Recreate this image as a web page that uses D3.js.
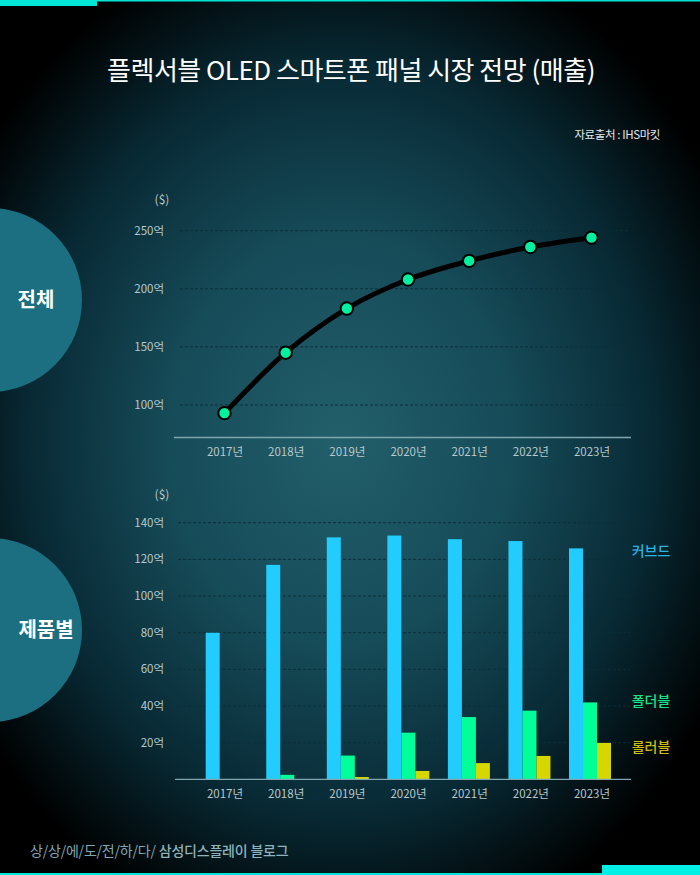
<!DOCTYPE html>
<html><head><meta charset="utf-8">
<script src="https://cdn.jsdelivr.net/npm/d3@7"></script>
<style>html,body{margin:0;padding:0;background:#000;}svg{display:block;}</style>
</head><body>
<script>
const years = ["2017년","2018년","2019년","2020년","2021년","2022년","2023년"];
const totalValues = [93, 145, 183, 208, 224, 236, 244];
const totalTicks = [100, 150, 200, 250];
const curvedValues = [80, 117, 132, 133, 131, 130, 126];
const foldableValues = [0, 2.5, 13, 25.5, 34, 37.5, 42];
const rollableValues = [0, 0, 1.3, 4.6, 8.9, 12.8, 19.9];
const barTicks = [20, 40, 60, 80, 100, 120, 140];
const seriesNames = ["커브드", "폴더블", "롤러블"];
const barColors = ["#22ccff", "#00ff99", "#d6d600"];
const labelColors = ["#2ab4e0", "#16e48c", "#c9bd10"];

const W = 700, H = 875;
const font = "'Noto Sans CJK KR', 'Noto Sans', sans-serif";
const svg = d3.select("body").append("svg").attr("width", W).attr("height", H);
const defs = svg.append("defs");
const rg = defs.append("radialGradient").attr("id","bg")
  .attr("gradientUnits","userSpaceOnUse").attr("cx",340).attr("cy",440).attr("r",430)
  .attr("gradientTransform","translate(340,440) scale(1.0,1.2) translate(-340,-440)");
rg.append("stop").attr("offset","0%").attr("stop-color","#225f6b");
rg.append("stop").attr("offset","40%").attr("stop-color","#164b58");
rg.append("stop").attr("offset","72%").attr("stop-color","#082a35");
rg.append("stop").attr("offset","100%").attr("stop-color","#000000");
svg.append("rect").attr("width",W).attr("height",H).attr("fill","url(#bg)");

// top / bottom accents
svg.append("rect").attr("x",0).attr("y",0).attr("width",W).attr("height",1.5).attr("fill","#00e5d6");
svg.append("rect").attr("x",0).attr("y",0).attr("width",97).attr("height",6).attr("fill","#00e5d6");
svg.append("rect").attr("x",0).attr("y",873).attr("width",W).attr("height",2).attr("fill","#00e5d6");
svg.append("rect").attr("x",602).attr("y",865).attr("width",98).attr("height",10).attr("fill","#00f0e6");

// title
svg.append("text").attr("x",351).attr("y",80).attr("text-anchor","middle")
  .attr("fill","#ffffff").attr("font-family",font).attr("font-size",26).attr("font-weight",400)
  .attr("letter-spacing",-0.5)
  .text("플렉서블 OLED 스마트폰 패널 시장 전망 (매출)");
svg.append("text").attr("x",660).attr("y",139).attr("text-anchor","end")
  .attr("fill","#e6e6e6").attr("font-family",font).attr("font-size",11.5).attr("letter-spacing",-0.4)
  .text("자료출처 : IHS마킷");

// side circles
[[300,"전체",36],[630,"제품별",46]].forEach(([cy,t,tx])=>{
  svg.append("circle").attr("cx",-10).attr("cy",cy).attr("r",92).attr("fill","#1b6f80");
  svg.append("text").attr("x",tx).attr("y",cy+7).attr("text-anchor","middle")
    .attr("fill","#fff").attr("font-family",font).attr("font-size",20).attr("font-weight",700).text(t);
});

// footer
const ft = svg.append("text").attr("x",30).attr("y",856).attr("fill","#7fa8b2")
  .attr("font-family",font).attr("font-size",14).attr("letter-spacing",-0.2);
ft.append("tspan").text("상/상/에/도/전/하/다/ ");
ft.append("tspan").attr("font-weight",500).attr("fill","#8db3bc").text("삼성디스플레이 블로그");

const axisColor = "#7fa6ae";
const tickText = "#b9c9cc";

// ---------- line chart ----------
const xP = d3.scalePoint().domain(years).range([224.5, 591.5]);
const y1 = d3.scaleLinear().domain([72, 250]).range([437.5, 230.7]);
const g1 = svg.append("g");
g1.selectAll(".grid").data(totalTicks).join("line")
  .attr("x1",180).attr("x2",630).attr("y1",d=>y1(d)).attr("y2",d=>y1(d))
  .attr("stroke","#0b2f38").attr("stroke-width",1).attr("stroke-dasharray","3,2");
g1.selectAll(".yl").data(totalTicks).join("text")
  .attr("x",164).attr("y",d=>y1(d)+4).attr("text-anchor","end")
  .attr("fill",tickText).attr("font-family",font).attr("font-size",11.5).text(d=>d+"억");
g1.append("text").attr("x",162).attr("y",204).attr("text-anchor","middle")
  .attr("fill",tickText).attr("font-family",font).attr("font-size",12).text("($)");
g1.append("line").attr("x1",174).attr("x2",631).attr("y1",437.5).attr("y2",437.5)
  .attr("stroke",axisColor).attr("stroke-width",1.5);
const ax1 = g1.append("g").attr("transform","translate(0,437.5)")
  .call(d3.axisBottom(xP).tickSize(0).tickPadding(10));
ax1.select(".domain").remove();
ax1.selectAll("text").attr("fill",tickText).attr("font-family",font).attr("font-size",11.5);
const line = d3.line().x((d,i)=>xP(years[i])).y(d=>y1(d)).curve(d3.curveMonotoneX);
g1.append("path").datum(totalValues).attr("d",line).attr("fill","none")
  .attr("stroke","#000").attr("stroke-width",5).attr("stroke-linejoin","round");
g1.selectAll(".pt").data(totalValues).join("circle")
  .attr("cx",(d,i)=>xP(years[i])).attr("cy",d=>y1(d)).attr("r",6.2)
  .attr("fill","#00f0a0").attr("stroke","#000").attr("stroke-width",2);

// ---------- bar chart ----------
const y2 = d3.scaleLinear().domain([0, 140]).range([779.4, 522.7]);
const xB = d3.scaleBand().domain(years).range([205.7, 611]).paddingInner(0.306).paddingOuter(0);
const xS = d3.scaleBand().domain([0,1,2]).range([0, xB.bandwidth()]);
const g2 = svg.append("g");
g2.selectAll(".grid").data(barTicks).join("line")
  .attr("x1",178).attr("x2",630).attr("y1",d=>y2(d)).attr("y2",d=>y2(d))
  .attr("stroke","#0b2f38").attr("stroke-width",1).attr("stroke-dasharray","3,2");
g2.selectAll(".yl").data(barTicks).join("text")
  .attr("x",164).attr("y",d=>y2(d)+4).attr("text-anchor","end")
  .attr("fill",tickText).attr("font-family",font).attr("font-size",11.5).text(d=>d+"억");
g2.append("text").attr("x",162).attr("y",499).attr("text-anchor","middle")
  .attr("fill",tickText).attr("font-family",font).attr("font-size",12).text("($)");
const series = [curvedValues, foldableValues, rollableValues];
series.forEach((vals,si)=>{
  g2.selectAll(".b"+si).data(vals).join("rect")
    .attr("x",(d,i)=>xB(years[i])+xS(si)).attr("width",xS.bandwidth())
    .attr("y",d=>y2(d)).attr("height",d=>y2(0)-y2(d)).attr("fill",barColors[si]);
});
g2.append("line").attr("x1",175).attr("x2",631).attr("y1",779.4).attr("y2",779.4)
  .attr("stroke",axisColor).attr("stroke-width",1.2);
const ax2 = g2.append("g").attr("transform","translate(0,779.4)")
  .call(d3.axisBottom(xP).tickSize(0).tickPadding(10));
ax2.select(".domain").remove();
ax2.selectAll("text").attr("fill",tickText).attr("font-family",font).attr("font-size",11.5);

const legendY = [551, 701, 747];
seriesNames.forEach((n,i)=>{
  g2.append("text").attr("x",651).attr("y",legendY[i]+5).attr("text-anchor","middle")
    .attr("fill",labelColors[i]).attr("font-family",font).attr("font-size",14).attr("font-weight",500).text(n);
});
</script>
</body></html>
